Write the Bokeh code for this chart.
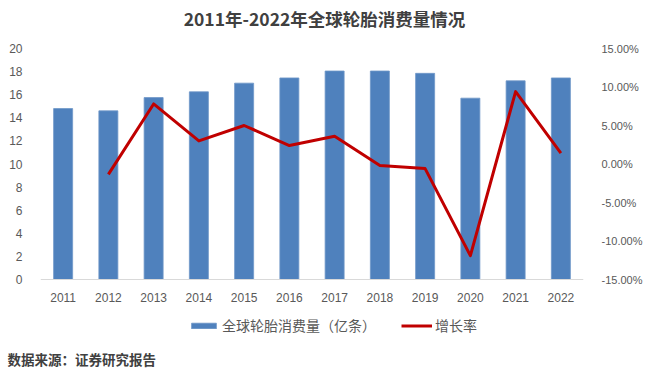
from bokeh.plotting import figure
from bokeh.models import (Range1d, FactorRange, LinearAxis, FixedTicker, PrintfTickFormatter,
                          Legend, LegendItem, Title, Label, Span, ColumnDataSource)
from bokeh.core.properties import value
from bokeh.embed import file_html
from bokeh.resources import INLINE

years = ["2011", "2012", "2013", "2014", "2015", "2016", "2017", "2018", "2019", "2020", "2021", "2022"]
consumption = [14.8, 14.6, 15.75, 16.25, 17.0, 17.45, 18.05, 18.05, 17.85, 15.7, 17.2, 17.45]
growth_years = ["2012", "2013", "2014", "2015", "2016", "2017", "2018", "2019", "2020", "2021", "2022"]
growth_pct = [-1.35, 7.8, 3.0, 5.0, 2.4, 3.6, -0.2, -0.6, -11.9, 9.4, 1.4]
left_ticks = [0, 2, 4, 6, 8, 10, 12, 14, 16, 18, 20]
right_ticks = [-15, -10, -5, 0, 5, 10, 15]

title_text = "2011年-2022年全球轮胎消费量情况"
bar_label = "全球轮胎消费量（亿条）"
line_label = "增长率"
source_text = "数据来源：证券研究报告"

CJK = "Noto Sans CJK SC"
NUM = "Liberation Sans"

# layout (pixels)
W, H = 645, 372
FRAME_BOTTOM = 344          # bottom of frame on page
PLOT_TOP, PLOT_BOTTOM = 48, 279   # where axis maxima / zero sit
ppu_l = (PLOT_BOTTOM - PLOT_TOP) / (left_ticks[-1] - left_ticks[0])
ppu_r = (PLOT_BOTTOM - PLOT_TOP) / (right_ticks[-1] - right_ticks[0])
y_left = Range1d(left_ticks[0] - (FRAME_BOTTOM - PLOT_BOTTOM) / ppu_l,
                 left_ticks[-1] + PLOT_TOP / ppu_l)
y_right = Range1d(right_ticks[0] - (FRAME_BOTTOM - PLOT_BOTTOM) / ppu_r,
                  right_ticks[-1] + PLOT_TOP / ppu_r)

p = figure(width=W, height=H, x_range=FactorRange(*years), y_range=y_left,
           x_axis_location=None, output_backend="svg", toolbar_location=None,
           min_border_left=40, min_border_right=60, min_border_top=0,
           min_border_bottom=H - FRAME_BOTTOM)
p.outline_line_color = None
p.xgrid.visible = False
p.ygrid.visible = False
p.background_fill_color = "white"
p.border_fill_color = "white"

p.extra_y_ranges = {"rate": y_right}

bars = p.vbar(x=years, top=consumption, width=0.42, fill_color="#4f81bd",
              line_color="#6f97c8", line_width=0.8)
src_line = ColumnDataSource(dict(x=growth_years, y=growth_pct))
line = p.line(x="x", y="y", source=src_line, y_range_name="rate",
              line_color="#c00000", line_width=3, line_join="round")

# baseline and category labels
p.add_layout(Span(location=0, dimension="width", line_color="#d9d9d9", line_width=1))
p.text(x=years, y=[0] * len(years), text=years, y_offset=18, text_align="center",
       text_baseline="middle", text_font=value(NUM), text_font_size="12px",
       text_color="#595959")

# left axis
ya = p.yaxis[0]
ya.ticker = FixedTicker(ticks=left_ticks)
ya.axis_line_color = None
ya.major_tick_line_color = None
ya.minor_tick_line_color = None
ya.major_label_standoff = 12
ya.major_label_text_font = NUM
ya.major_label_text_font_size = "12px"
ya.major_label_text_color = "#595959"

# right axis
ra = LinearAxis(y_range_name="rate", ticker=FixedTicker(ticks=right_ticks),
                formatter=PrintfTickFormatter(format="%.2f%%"))
ra.axis_line_color = None
ra.major_tick_line_color = None
ra.minor_tick_line_color = None
ra.major_label_standoff = 12
ra.major_label_text_font = NUM
ra.major_label_text_font_size = "11px"
ra.major_label_text_color = "#595959"
p.add_layout(ra, "right")

legend = Legend(items=[LegendItem(label=bar_label, renderers=[bars]),
                       LegendItem(label=line_label, renderers=[line])],
                orientation="horizontal", location=(148, 9),
                glyph_width=31, glyph_height=7, label_height=14, label_standoff=3,
                spacing=25, padding=0, margin=0, border_line_color=None,
                background_fill_alpha=0,
                label_text_font=CJK, label_text_font_size="14px",
                label_text_color="#595959")
p.add_layout(legend, "center")

p.add_layout(Label(x=284, y=FRAME_BOTTOM - 18, x_units="screen", y_units="screen",
                   text=title_text, text_align="center", text_baseline="middle",
                   text_font=CJK, text_font_size="17.5px", text_font_style="bold",
                   text_color="#404040"))

src_title = Title(text=source_text, align="left", offset=-33, standoff=4,
                  text_font=CJK, text_font_size="13.5px", text_font_style="bold",
                  text_color="#404040")
p.add_layout(src_title, "below")

open("out.html", "w").write(file_html(p, INLINE))
